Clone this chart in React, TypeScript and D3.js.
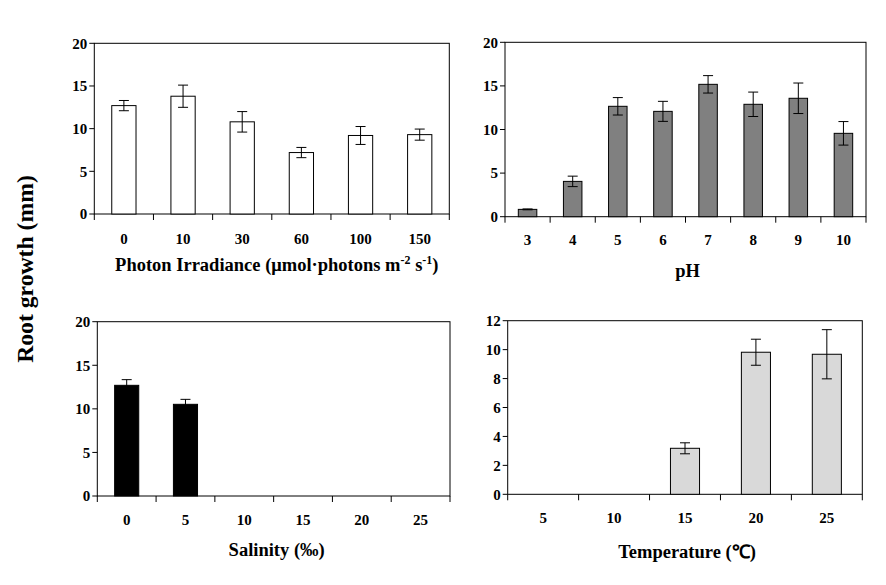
import React from "react";
import * as d3 from "d3";

const irrCategories = ["0", "10", "30", "60", "100", "150"];
const irrValues = [12.7, 13.8, 10.8, 7.2, 9.2, 9.3];
const irrErrors = [0.6, 1.3, 1.2, 0.6, 1.05, 0.65];

const phCategories = ["3", "4", "5", "6", "7", "8", "9", "10"];
const phValues = [0.84, 4.05, 12.66, 12.08, 15.18, 12.89, 13.58, 9.56];
const phErrors = [0.05, 0.6, 1.0, 1.15, 1.0, 1.4, 1.75, 1.35];

const salCategories = ["0", "5", "10", "15", "20", "25"];
const salValues = [12.7, 10.52, 0, 0, 0, 0];
const salErrors = [0.65, 0.57, 0, 0, 0, 0];

const tempCategories = ["5", "10", "15", "20", "25"];
const tempValues = [0, 0, 3.18, 9.82, 9.68];
const tempErrors = [0, 0, 0.38, 0.9, 1.7];

const yTicks20 = [0, 5, 10, 15, 20];
const yTicks12 = [0, 2, 4, 6, 8, 10, 12];

const FONT = "'Liberation Serif', 'Times New Roman', serif";

type PanelProps = {
  left: number;
  right: number;
  top: number;
  bottom: number;
  yMax: number;
  yTicks: number[];
  categories: string[];
  values: number[];
  errors: number[];
  fill: string;
  tickBaseline: number;
  titleBaseline: number;
  titleDx: number;
  title: React.ReactNode;
};

function Panel(p: PanelProps) {
  const x = d3.scaleBand<string>().domain(p.categories).range([p.left, p.right]).paddingInner(0).paddingOuter(0);
  const y = d3.scaleLinear().domain([0, p.yMax]).range([p.bottom, p.top]);
  const bw = x.bandwidth() * 0.41;
  const boundaries = [...p.categories.map((c) => x(c) as number), p.right];
  return (
    <g>
      <rect x={p.left} y={p.top} width={p.right - p.left} height={p.bottom - p.top} fill="none" stroke="#000" strokeWidth={1} />
      {p.yTicks.map((t) => (
        <g key={"y" + t}>
          <line x1={p.left - 5} x2={p.left} y1={y(t)} y2={y(t)} stroke="#000" />
          <text x={p.left - 7} y={y(t)} dy="0.35em" textAnchor="end" fontFamily={FONT} fontWeight="bold" fontSize={15}>
            {t}
          </text>
        </g>
      ))}
      {boundaries.map((b, i) => (
        <line key={"xt" + i} x1={b} x2={b} y1={p.bottom} y2={p.bottom + 6} stroke="#000" />
      ))}
      {p.categories.map((c) => (
        <text key={"xl" + c} x={(x(c) as number) + x.bandwidth() / 2} y={p.tickBaseline} textAnchor="middle" fontFamily={FONT} fontWeight="bold" fontSize={15}>
          {c}
        </text>
      ))}
      {p.categories.map((c, i) => {
        const v = p.values[i];
        if (v <= 0) return null;
        const cx = (x(c) as number) + x.bandwidth() / 2;
        const e = p.errors[i];
        return (
          <g key={"b" + c}>
            <rect x={cx - bw / 2} y={y(v)} width={bw} height={p.bottom - y(v)} fill={p.fill} stroke="#000" strokeWidth={1} />
            <line x1={cx} x2={cx} y1={y(v + e)} y2={y(v - e)} stroke="#000" />
            <line x1={cx - 5} x2={cx + 5} y1={y(v + e)} y2={y(v + e)} stroke="#000" />
            <line x1={cx - 5} x2={cx + 5} y1={y(v - e)} y2={y(v - e)} stroke="#000" />
          </g>
        );
      })}
      <text x={(p.left + p.right) / 2 + p.titleDx} y={p.titleBaseline} textAnchor="middle" fontFamily={FONT} fontWeight="bold" fontSize={18.5}>
        {p.title}
      </text>
    </g>
  );
}

export default function App() {
  return (
    <svg width={886} height={585} style={{ position: "absolute", left: 0, top: 0, background: "#fff" }}>
      <rect x={0} y={0} width={886} height={585} fill="#fff" />
      <Panel
        left={94.3}
        right={449.3}
        top={43.3}
        bottom={214}
        yMax={20}
        yTicks={yTicks20}
        categories={irrCategories}
        values={irrValues}
        errors={irrErrors}
        fill="#ffffff"
        tickBaseline={243.5}
        titleBaseline={271}
        titleDx={5}
        title={
          <>
            Photon Irradiance (μmol·photons m
            <tspan dy={-7} fontSize={12}>-2</tspan>
            <tspan dy={7}> s</tspan>
            <tspan dy={-7} fontSize={12}>-1</tspan>
            <tspan dy={7}>)</tspan>
          </>
        }
      />
      <Panel
        left={505}
        right={866}
        top={42.3}
        bottom={216.7}
        yMax={20}
        yTicks={yTicks20}
        categories={phCategories}
        values={phValues}
        errors={phErrors}
        fill="#808080"
        tickBaseline={245}
        titleBaseline={277}
        titleDx={2}
        title="pH"
      />
      <Panel
        left={97.3}
        right={450}
        top={321.7}
        bottom={496}
        yMax={20}
        yTicks={yTicks20}
        categories={salCategories}
        values={salValues}
        errors={salErrors}
        fill="#000000"
        tickBaseline={525}
        titleBaseline={556}
        titleDx={3}
        title="Salinity (‰)"
      />
      <Panel
        left={507.7}
        right={862.3}
        top={320.7}
        bottom={494.3}
        yMax={12}
        yTicks={yTicks12}
        categories={tempCategories}
        values={tempValues}
        errors={tempErrors}
        fill="#d9d9d9"
        tickBaseline={523}
        titleBaseline={558}
        titleDx={2}
        title="Temperature (℃)"
      />
      <text transform="translate(33,269) rotate(-90)" textAnchor="middle" fontFamily={FONT} fontWeight="bold" fontSize={23.7}>
        Root growth (mm)
      </text>
    </svg>
  );
}
